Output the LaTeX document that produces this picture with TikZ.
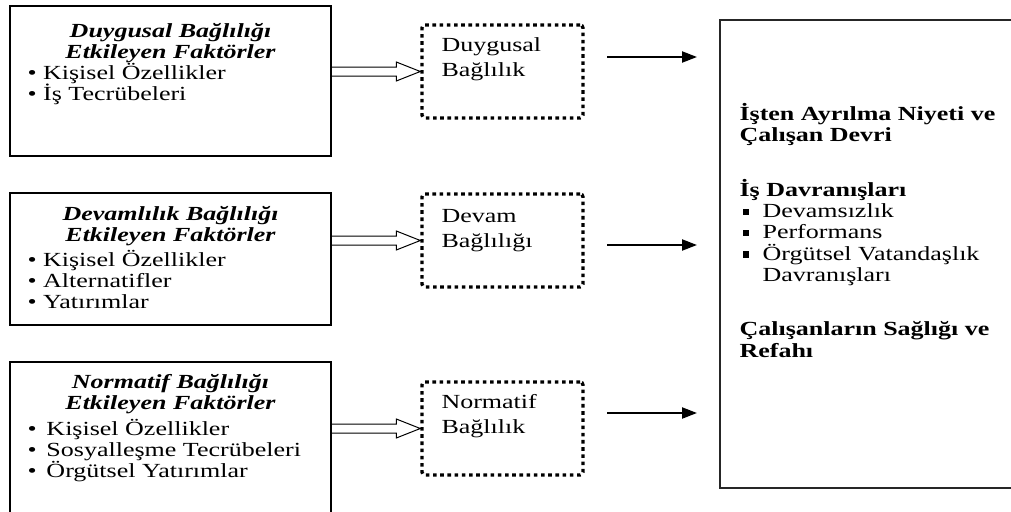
\documentclass[tikz,border=0pt]{standalone}
\usepackage{fontspec}
\setmainfont[FakeStretch=1.3]{Liberation Serif}
\usetikzlibrary{positioning,calc,arrows.meta}
\newcommand{\sqbullet}{\makebox[23pt][l]{\hspace{3pt}\rule[2.5pt]{6.5pt}{6.5pt}}}

\begin{document}
\begin{tikzpicture}[x=1pt,y=-1pt,font=\fontsize{20}{21}\selectfont]
        \tikzstyle{factor} = [draw,line width=1.3pt,minimum width=321pt,inner sep=0pt]
        \tikzstyle{commit} = [draw,line width=3.4pt,dash pattern=on 3.6pt off 3.6pt,rounded corners=3pt,minimum width=161pt,minimum height=93pt,inner sep=0pt]
        \tikzstyle{title} = [align=center,inner sep=0pt,font=\fontsize{20}{21}\selectfont\bfseries\itshape]
        \tikzstyle{items} = [align=left,inner sep=0pt]
        \tikzstyle{commitlabel} = [align=left,inner sep=0pt,font=\fontsize{20}{25}\selectfont]
        \tikzstyle{hollow} = [line width=1pt,to path={
            ($(\tikztostart)+(0pt,4.5pt)$) -- ($(\tikztotarget)+(-24pt,4.5pt)$) -- ($(\tikztotarget)+(-24pt,9.5pt)$) -- (\tikztotarget)
            -- ($(\tikztotarget)+(-24pt,-9.5pt)$) -- ($(\tikztotarget)+(-24pt,-4.5pt)$) -- ($(\tikztostart)+(0pt,-4.5pt)$)}]
        \tikzstyle{effect} = [line width=2.2pt,-{Triangle[length=15pt,width=11pt]}]
        \useasboundingbox (0,0) rectangle (1011,511);
        %
        % Factor boxes.
        \node[factor,minimum height=150pt] (fac1) at (170.5,81) {};
        \node[factor,minimum height=132pt] (fac2) at (170.5,259) {};
        \node[factor,minimum height=178pt] (fac3) at (170.5,451) {};
        \node[title,below=17.5pt of fac1.north] (fac1title) {Duygusal Bağlılığı\\Etkileyen Faktörler};
        \node[title,below=13.5pt of fac2.north] (fac2title) {Devamlılık Bağlılığı\\Etkileyen Faktörler};
        \node[title,below=12.5pt of fac3.north] (fac3title) {Normatif Bağlılığı\\Etkileyen Faktörler};
        \node[items,below right=58pt and 18pt of fac1.north west] (fac1items) {• Kişisel Özellikler\\• İş Tecrübeleri};
        \node[items,below right=58pt and 18pt of fac2.north west] (fac2items) {• Kişisel Özellikler\\• Alternatifler\\• Yatırımlar};
        \node[items,below right=58pt and 18pt of fac3.north west] (fac3items) {•\, Kişisel Özellikler\\•\, Sosyalleşme Tecrübeleri\\•\, Örgütsel Yatırımlar};
        %
        % Commitment boxes.
        \node[commit] (bag1) at (502.5,71.5) {};
        \node[commit] (bag2) at (502.5,240.5) {};
        \node[commit] (bag3) at (502.5,428.5) {};
        \node[commitlabel,below right=14pt and 21pt of bag1.north west] (bag1label) {Duygusal\\Bağlılık};
        \node[commitlabel,below right=17pt and 21pt of bag2.north west] (bag2label) {Devam\\Bağlılığı};
        \node[commitlabel,below right=14pt and 21pt of bag3.north west] (bag3label) {Normatif\\Bağlılık};
        %
        % Outcome box.
        \node[draw=black!85,line width=1.3pt,minimum width=310pt,minimum height=468pt,inner sep=0pt] (result) at (875,254) {};
        \node[items,font=\fontsize{20}{21.3}\selectfont,below right=84pt and 20pt of result.north west] (resulttext) {\textbf{İşten Ayrılma Niyeti ve}\\\textbf{Çalışan Devri}\\[33pt]
            \textbf{İş Davranışları}\\\sqbullet Devamsızlık\\\sqbullet Performans\\\sqbullet Örgütsel Vatandaşlık\\\hspace*{23pt}Davranışları\\[33pt]
            \textbf{Çalışanların Sağlığı ve}\\\textbf{Refahı}};
        %
        % Arrows.
        \draw[hollow] (fac1.east |- bag1.west) to (bag1.west);
        \draw[hollow] (fac2.east |- bag2.west) to (bag2.west);
        \draw[hollow] (fac3.east |- bag3.west) to (bag3.west);
        \coordinate (eff1s) at (607,57);  \coordinate (eff1e) at (697,57);
        \coordinate (eff2s) at (607,245); \coordinate (eff2e) at (697,245);
        \coordinate (eff3s) at (607,413); \coordinate (eff3e) at (697,413);
        \draw[effect] (eff1s) -- (eff1e);
        \draw[effect] (eff2s) -- (eff2e);
        \draw[effect] (eff3s) -- (eff3e);
\end{tikzpicture}
\end{document}
